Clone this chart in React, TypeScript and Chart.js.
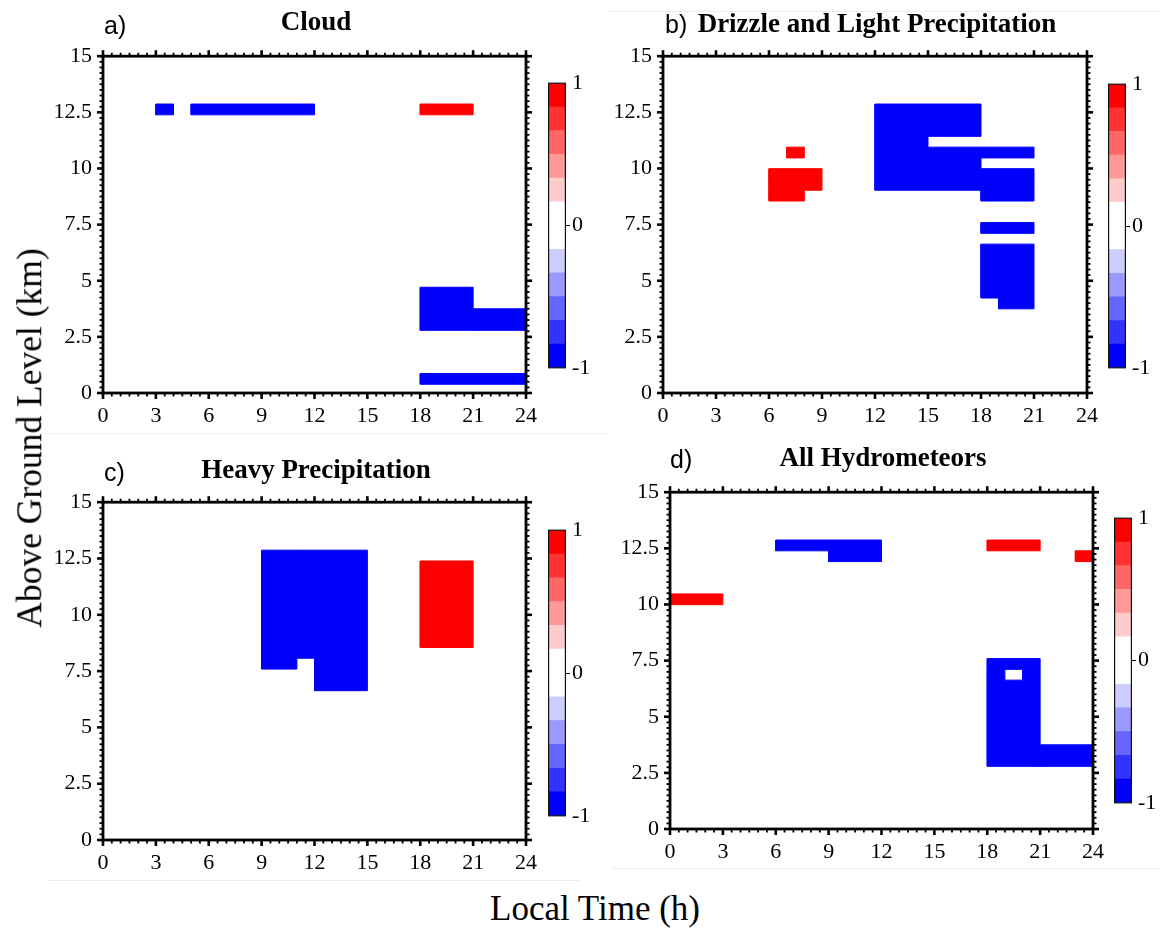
import React, { useEffect, useRef } from "react";
import { Chart, registerables } from "chart.js";

Chart.register(...registerables);

// ---------------- data ----------------
// colour-bar boundaries (12 bins from -1 to 1) and their colours
const cbLevels = [-1, -0.833, -0.667, -0.5, -0.333, -0.167, 0, 0.167, 0.333, 0.5, 0.667, 0.833, 1];
const cbColors = [
  "rgb(0,0,255)", "rgb(51,51,255)", "rgb(102,102,255)", "rgb(153,153,255)", "rgb(204,204,255)",
  "rgb(255,255,255)", "rgb(255,255,255)",
  "rgb(255,204,204)", "rgb(255,153,153)", "rgb(255,102,102)", "rgb(255,51,51)", "rgb(255,0,0)",
];
const cbTicks = [-1, 0, 1];

// tick labels
const timeTicks = [0, 3, 6, 9, 12, 15, 18, 21, 24];
const heightTicks = [0, 2.5, 5, 7.5, 10, 12.5, 15];

// cells: [start hour, end hour, bottom km, top km, value]
const cloudCells = [
  [3, 4, 12.39, 12.87, -1],
  [5, 12, 12.39, 12.87, -1],
  [18, 21, 12.39, 12.87, 1],
  [18, 21, 2.79, 4.71, -1],
  [21, 24, 2.79, 3.75, -1],
  [18, 24, 0.39, 0.87, -1],
];
const drizzleCells = [
  [7, 8, 10.47, 10.95, 1],
  [6, 9, 9.03, 9.99, 1],
  [6, 8, 8.55, 9.03, 1],
  [12, 18, 11.43, 12.87, -1],
  [12, 15, 10.95, 11.43, -1],
  [12, 21, 10.47, 10.95, -1],
  [12, 18, 9.99, 10.47, -1],
  [12, 21, 9.03, 9.99, -1],
  [18, 21, 8.55, 9.03, -1],
  [18, 21, 7.11, 7.59, -1],
  [18, 21, 4.23, 6.63, -1],
  [19, 21, 3.75, 4.23, -1],
];
const heavyCells = [
  [9, 11, 7.59, 12.87, -1],
  [11, 12, 8.07, 12.87, -1],
  [12, 15, 6.63, 12.87, -1],
  [18, 21, 8.55, 12.39, 1],
];
const allCells = [
  [0, 3, 9.99, 10.47, 1],
  [6, 12, 12.39, 12.87, -1],
  [9, 12, 11.91, 12.39, -1],
  [18, 21, 12.39, 12.87, 1],
  [23, 24, 11.91, 12.39, 1],
  [18, 21, 2.79, 6.63, -1],
  [18, 19, 6.63, 7.11, -1],
  [20, 21, 6.63, 7.11, -1],
  [18, 21, 7.11, 7.59, -1],
  [21, 24, 2.79, 3.75, -1],
];

const panelLetters = ["a)", "b)", "c)", "d)"];
const panelTitles = ["Cloud", "Drizzle and Light Precipitation", "Heavy Precipitation", "All Hydrometeors"];
const panelCells = [cloudCells, drizzleCells, heavyCells, allCells];

// ---------------- layout ----------------
// plot boxes [left, top, right, bottom] in page px
const plotBoxes = [
  [103, 48, 531, 393],
  [663, 48, 1092, 393],
  [103, 494, 531, 840],
  [670, 484, 1098, 829],
];
const cbBoxes = [
  [548, 82, 566, 369],
  [1108, 83, 1126, 369],
  [548, 529, 566, 817],
  [1114, 517, 1132, 804],
];
// letter [left, centerY], title [centerX, centerY]
const letterPos = [[104, 25], [665, 24], [104, 472], [670, 459]];
const titlePos = [[316, 21], [877, 23], [316, 469], [883, 457]];

const PADL = 10, YAXIS_W = 60, PADT = 16, PADR = 16, XAXIS_H = 40, PADB = 5;
const CB_PADT = 14, CB_PADB = 14, CB_AXIS_W = 40;

const SERIF = '"Liberation Serif", "Times New Roman", serif';
const SANS = '"Liberation Sans", Arial, sans-serif';

function colorFor(v: number): string {
  for (let i = 0; i < cbColors.length; i++) {
    if (v <= cbLevels[i + 1]) return cbColors[i];
  }
  return cbColors[cbColors.length - 1];
}

function cellDataset(c: number[]) {
  const [t0, t1, z0, z1, v] = c;
  const col = colorFor(v);
  return {
    data: [
      { x: t0, y: z0 },
      { x: t1, y: z0 },
      { x: t1, y: z1 },
      { x: t0, y: z1 },
      { x: t0, y: z0 },
    ],
    fill: "shape",
    backgroundColor: col,
    borderColor: col,
    borderWidth: 1,
    pointRadius: 0,
    pointHoverRadius: 0,
    tension: 0,
  };
}

const framePlugin = {
  id: "frame",
  afterDatasetsDraw(chart: any) {
    const { ctx, chartArea: a, scales } = chart;
    const xs = scales.x, ys = scales.y;
    ctx.save();
    ctx.strokeStyle = "#000";
    ctx.lineCap = "butt";
    const seg = (x1: number, y1: number, x2: number, y2: number) => {
      ctx.beginPath();
      ctx.moveTo(x1, y1);
      ctx.lineTo(x2, y2);
      ctx.stroke();
    };
    const MAJ = 6, MIN = 3.5;
    // minor ticks on x (every half hour)
    ctx.lineWidth = 1.8;
    for (let i = 0; i <= 48; i++) {
      const v = i * 0.5;
      if (v % 3 === 0) continue;
      const px = xs.getPixelForValue(v);
      seg(px, a.bottom, px, a.bottom + MIN);
      seg(px, a.top, px, a.top - MIN);
    }
    // minor ticks on y (every quarter km)
    for (let i = 0; i <= 60; i++) {
      const v = i * 0.25;
      if (Math.abs(v / 2.5 - Math.round(v / 2.5)) < 1e-6) continue;
      const py = ys.getPixelForValue(v);
      seg(a.left, py, a.left - MIN, py);
      seg(a.right, py, a.right + MIN, py);
    }
    // major ticks
    ctx.lineWidth = 2.6;
    for (const v of timeTicks) {
      const px = xs.getPixelForValue(v);
      seg(px, a.bottom, px, a.bottom + MAJ);
      seg(px, a.top, px, a.top - MAJ);
    }
    for (const v of heightTicks) {
      const py = ys.getPixelForValue(v);
      seg(a.left, py, a.left - MAJ, py);
      seg(a.right, py, a.right + MAJ, py);
    }
    ctx.lineWidth = 2.8;
    ctx.strokeRect(a.left, a.top, a.right - a.left, a.bottom - a.top);
    ctx.restore();
  },
};

const cbBorderPlugin = {
  id: "cbBorder",
  afterDatasetsDraw(chart: any) {
    const { ctx, chartArea: a } = chart;
    ctx.save();
    ctx.strokeStyle = "#111";
    ctx.lineWidth = 1.2;
    ctx.strokeRect(a.left + 0.6, a.top, a.right - a.left - 1.2, a.bottom - a.top);
    ctx.restore();
  },
};

function PanelChart({ idx }: { idx: number }) {
  const ref = useRef<HTMLCanvasElement>(null);
  const [L, T, R, B] = plotBoxes[idx];
  const W = R - L + PADL + YAXIS_W + PADR;
  const H = B - T + PADT + XAXIS_H + PADB;
  useEffect(() => {
    const font = { family: SERIF, size: 22 };
    const chart = new Chart(ref.current as HTMLCanvasElement, {
      type: "line",
      data: { datasets: panelCells[idx].map(cellDataset) as any },
      options: {
        animation: false,
        responsive: false,
        maintainAspectRatio: false,
        events: [],
        layout: { padding: { left: PADL, top: PADT, right: PADR, bottom: PADB } },
        plugins: { legend: { display: false }, tooltip: { enabled: false }, title: { display: false } },
        scales: {
          x: {
            type: "linear",
            min: 0,
            max: 24,
            afterBuildTicks: (s: any) => { s.ticks = timeTicks.map((v) => ({ value: v })); },
            ticks: { autoSkip: false, maxRotation: 0, padding: 10, color: "#000", font },
            grid: { display: false, drawTicks: false },
            border: { display: false },
            afterFit: (s: any) => { s.height = XAXIS_H; },
          },
          y: {
            type: "linear",
            min: 0,
            max: 15,
            afterBuildTicks: (s: any) => { s.ticks = heightTicks.map((v) => ({ value: v })); },
            ticks: { autoSkip: false, padding: 11, color: "#000", font },
            grid: { display: false, drawTicks: false },
            border: { display: false },
            afterFit: (s: any) => { s.width = YAXIS_W; },
          },
        },
      } as any,
      plugins: [framePlugin],
    });
    return () => chart.destroy();
  }, [idx]);
  return (
    <canvas
      ref={ref}
      width={W}
      height={H}
      style={{ position: "absolute", left: L - PADL - YAXIS_W, top: T - PADT, width: W, height: H }}
    />
  );
}

function ColorBar({ idx }: { idx: number }) {
  const ref = useRef<HTMLCanvasElement>(null);
  const [L, T, R, B] = cbBoxes[idx];
  const W = R - L + CB_AXIS_W;
  const H = B - T + CB_PADT + CB_PADB;
  useEffect(() => {
    const font = { family: SERIF, size: 22 };
    const chart = new Chart(ref.current as HTMLCanvasElement, {
      type: "bar",
      data: {
        labels: [""],
        datasets: cbColors.map((c, i) => ({
          data: [[cbLevels[i], cbLevels[i + 1]]],
          backgroundColor: c,
          borderWidth: 0,
          barPercentage: 1,
          categoryPercentage: 1,
          grouped: false,
        })) as any,
      },
      options: {
        animation: false,
        responsive: false,
        maintainAspectRatio: false,
        events: [],
        layout: { padding: { left: 0, right: 0, top: CB_PADT, bottom: CB_PADB } },
        plugins: { legend: { display: false }, tooltip: { enabled: false } },
        scales: {
          x: { display: false },
          y: {
            position: "right",
            min: -1,
            max: 1,
            afterBuildTicks: (s: any) => { s.ticks = cbTicks.map((v) => ({ value: v })); },
            ticks: { padding: 2, color: "#000", font },
            grid: {
              drawOnChartArea: false,
              drawTicks: true,
              tickLength: 4,
              tickWidth: 1,
              tickColor: (c: any) => (c.tick && c.tick.value === 0 ? "#000" : "rgba(0,0,0,0)"),
            },
            border: { display: false },
            afterFit: (s: any) => { s.width = CB_AXIS_W; },
          },
        },
      } as any,
      plugins: [cbBorderPlugin],
    });
    return () => chart.destroy();
  }, [idx]);
  return (
    <canvas
      ref={ref}
      width={W}
      height={H}
      style={{ position: "absolute", left: L, top: T - CB_PADT, width: W, height: H }}
    />
  );
}

const grayLines = [
  [44, 580, 433],
  [580, 608, 433],
  [608, 1160, 11],
  [48, 580, 880],
  [613, 1160, 868],
];

export default function App() {
  return (
    <div
      style={{
        position: "absolute",
        left: 0,
        top: 0,
        width: 1160,
        height: 928,
        background: "#fff",
        overflow: "hidden",
        fontFamily: SERIF,
        color: "#000",
      }}
    >
      {grayLines.map(([x0, x1, y], i) => (
        <div key={"g" + i} style={{ position: "absolute", left: x0, top: y, width: x1 - x0, height: 1, background: "#ececec" }} />
      ))}
      {plotBoxes.map((_, i) => (
        <React.Fragment key={i}>
          <PanelChart idx={i} />
          <ColorBar idx={i} />
          <div
            style={{
              position: "absolute",
              left: letterPos[i][0],
              top: letterPos[i][1],
              transform: "translateY(-50%)",
              fontFamily: SANS,
              fontSize: 25,
              lineHeight: 1,
              whiteSpace: "nowrap",
            }}
          >
            {panelLetters[i]}
          </div>
          <div
            style={{
              position: "absolute",
              left: titlePos[i][0],
              top: titlePos[i][1],
              transform: "translate(-50%, -50%)",
              fontFamily: SERIF,
              fontWeight: "bold",
              fontSize: 27,
              lineHeight: 1,
              whiteSpace: "nowrap",
            }}
          >
            {panelTitles[i]}
          </div>
        </React.Fragment>
      ))}
      <div
        style={{
          position: "absolute",
          left: 30,
          top: 438,
          transform: "translate(-50%, -50%) rotate(-90deg)",
          fontSize: 35.5,
          lineHeight: 1,
          whiteSpace: "nowrap",
        }}
      >
        Above Ground Level (km)
      </div>
      <div
        style={{
          position: "absolute",
          left: 595,
          top: 908,
          transform: "translate(-50%, -50%)",
          fontSize: 35,
          lineHeight: 1,
          whiteSpace: "nowrap",
        }}
      >
        Local Time (h)
      </div>
    </div>
  );
}
